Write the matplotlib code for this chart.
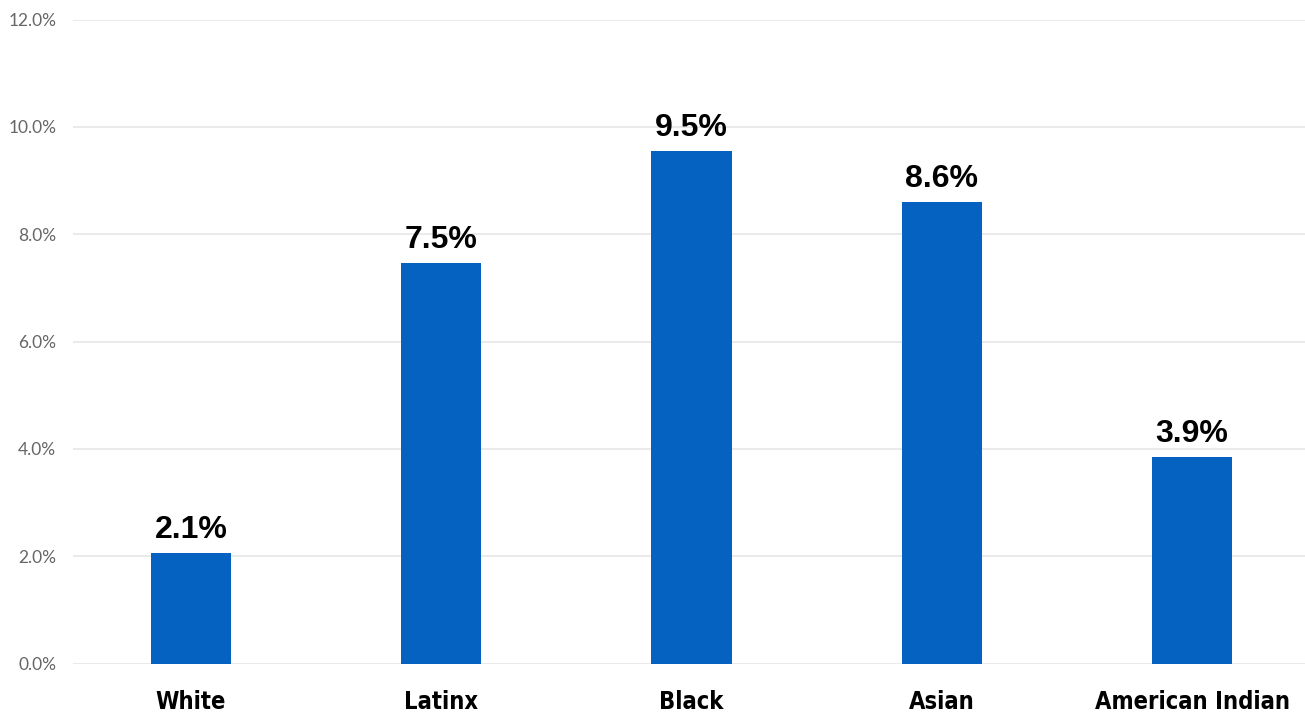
import matplotlib
matplotlib.use("Agg")
import matplotlib.pyplot as plt
import numpy as np

# --- Data ---
groups = ['White', 'Latinx', 'Black', 'Asian', 'American Indian']
rates = [2.06, 7.46, 9.55, 8.60, 3.85]
rate_labels = ['2.1%', '7.5%', '9.5%', '8.6%', '3.9%']
yticks = [0, 2, 4, 6, 8, 10, 12]

bar_color = '#0562C1'
grid_color = '#E6E6E6'

fig = plt.figure(figsize=(13.05, 7.15), dpi=100)
ax = fig.add_axes([0.0559, 0.072, 0.9441, 0.9007])

x = np.arange(len(groups))
ax.bar(x, rates, width=0.32, color=bar_color, zorder=3)

for xi, v, lab in zip(x, rates, rate_labels):
    ax.annotate(lab, (xi, v), xytext=(0, 6), textcoords='offset points',
                ha='center', va='bottom', fontsize=23, fontweight='bold',
                family='Liberation Sans', color='black')

ax.set_xlim(-0.4715, 4.4515)
ax.set_ylim(0, 12)
ax.set_yticks(yticks)
ax.set_yticklabels([f"{t:.1f}%" for t in yticks], fontsize=12.5, color='#666666',
                   family='Lato')
ax.set_xticks(x)
ax.set_xticklabels(groups, fontsize=17, fontweight='bold', family='DejaVu Sans',
                   fontstretch='condensed', color='black')
ax.tick_params(axis='y', length=0, pad=12)
ax.tick_params(axis='x', length=0, pad=19)
ax.yaxis.grid(True, color=grid_color, linewidth=1.2, zorder=0)
ax.set_axisbelow(True)
for s in ax.spines.values():
    s.set_visible(False)

fig.savefig('out.png', dpi=100)
